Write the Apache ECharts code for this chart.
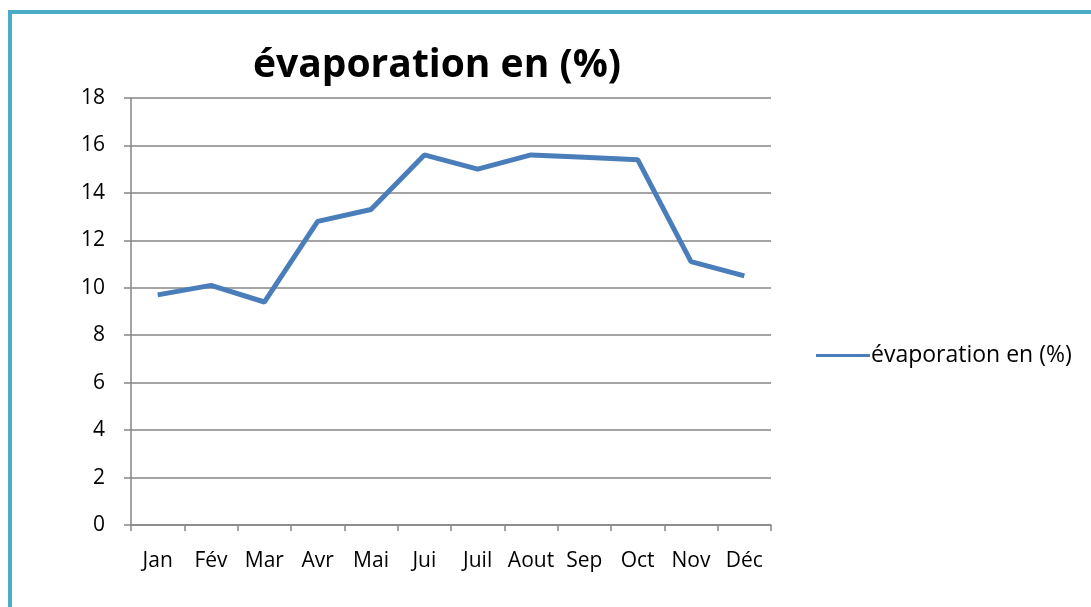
<!DOCTYPE html>
<html><head><meta charset="utf-8">
<script src="https://cdn.jsdelivr.net/npm/echarts@6/dist/echarts.min.js"></script>
<style>html,body{margin:0;padding:0;background:#fff;}#c{width:1091px;height:607px;}</style>
</head><body><div id="c"></div>
<script>
const categories = ['Jan','Fév','Mar','Avr','Mai','Jui','Juil','Aout','Sep','Oct','Nov','Déc'];
const evaporation = [9.7, 10.1, 9.4, 12.8, 13.3, 15.6, 15.0, 15.6, 15.5, 15.4, 11.1, 10.5];
const seriesName = 'évaporation en (%)';
const titleText = 'évaporation en (%)';

const chart = echarts.init(document.getElementById('c'), null, {renderer:'canvas'});
const font = '"Open Sans", Lato, sans-serif';
chart.setOption({
  animation: false,
  backgroundColor: '#fff',
  title: {
    text: titleText, left: 432, top: 41, textAlign: 'center',
    textStyle: {fontFamily: font, fontSize: 39, fontWeight: 'bold', color: '#000'}
  },
  graphic: [
    {type:'line', shape:{x1:8, y1:12, x2:1091, y2:12}, style:{stroke:'#4bacc6', lineWidth:4}},
    {type:'line', shape:{x1:10, y1:10, x2:10, y2:607}, style:{stroke:'#4bacc6', lineWidth:4}}
  ],
  legend: {
    left: 811, top: 339, itemWidth: 54, itemHeight: 14, itemGap: 0,
    textStyle: {fontFamily: font, fontSize: 23, color: '#000', padding:[0,0,0,-4]},
    data: [{name: seriesName, icon: 'path://M0,6 L54,6 L54,9 L0,9 Z'}]
  },
  grid: {left: 131, right: 320, top: 98, bottom: 82},
  xAxis: {
    type: 'category', data: categories, boundaryGap: true,
    axisLine: {lineStyle: {color: '#868686', width: 1.5}},
    axisTick: {show: true, length: 6, interval: 0, lineStyle: {color: '#868686', width: 1.5}},
    axisLabel: {fontFamily: font, fontSize: 21, color: '#000', margin: 26, interval: 0}
  },
  yAxis: {
    type: 'value', min: 0, max: 18, interval: 2,
    axisLine: {show: true, lineStyle: {color: '#868686', width: 1.5}},
    axisTick: {show: true, length: 7, lineStyle: {color: '#868686', width: 1.5}},
    splitLine: {lineStyle: {color: '#868686', width: 1.5}},
    axisLabel: {fontFamily: font, fontSize: 21, color: '#000', margin: 26}
  },
  series: [{
    name: seriesName, type: 'line', data: evaporation,
    symbol: 'none', lineStyle: {color: '#4a7ebb', width: 5},
    itemStyle: {color: '#4a7ebb'}
  }]
});
</script></body></html>
